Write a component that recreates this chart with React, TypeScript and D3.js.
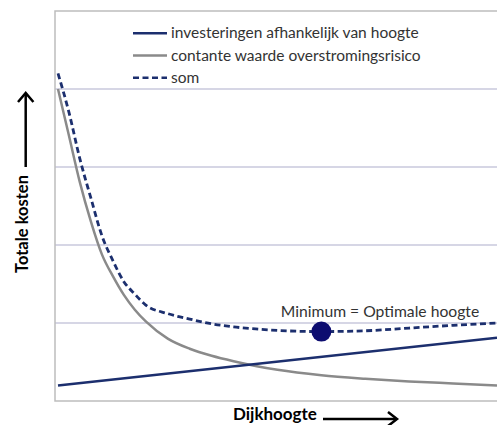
import React from "react";
import * as d3 from "d3";

// dijkhoogte (arbitrary units along x)
const heights = [0, 0.5, 1, 1.5, 2, 2.5, 3, 3.5, 4, 5, 6, 7, 8, 9, 10, 12, 14, 16, 18, 20];
// investeringen afhankelijk van hoogte (straight line, read at both ends)
const investHeights = [0, 20];
const investment = [0.2, 0.81];
// contante waarde overstromingsrisico
const risk = [4.0, 3.4, 2.8, 2.3, 1.88, 1.6, 1.36, 1.17, 1.02, 0.8, 0.67, 0.58, 0.51, 0.45, 0.4, 0.33, 0.285, 0.25, 0.225, 0.2];
// som
const total = [4.2, 3.7, 3.1, 2.6, 2.12, 1.8, 1.53, 1.37, 1.23, 1.12, 1.05, 0.99, 0.95, 0.925, 0.905, 0.89, 0.9, 0.935, 0.97, 1.0];

const yTicks = [0, 1, 2, 3, 4, 5];
const optimum = { height: 12, value: 0.89 };

const legendItems = [
  { label: "investeringen afhankelijk van hoogte", color: "#1c2f6e", dash: null },
  { label: "contante waarde overstromingsrisico", color: "#8a8a8a", dash: null },
  { label: "som", color: "#1c2f6e", dash: "6,3.5" },
];

const W = 497;
const H = 425;
const plot = { left: 55, top: 11, right: 497, bottom: 401 };

export default function App() {
  const x = d3.scaleLinear().domain([0, 20]).range([58, 497]);
  const y = d3.scaleLinear().domain([0, 5]).range([plot.bottom, plot.top]);

  const curveLine = (xs: number[], vals: number[], curve: d3.CurveFactory) =>
    d3
      .line<number>()
      .x((_, i) => x(xs[i]))
      .y((d) => y(d))
      .curve(curve)(vals) || "";

  const font = "Lato, 'Open Sans', sans-serif";

  return (
    <svg width={W} height={H} style={{ position: "absolute", left: 0, top: 0 }} fontFamily={font}>
      <defs>
        <clipPath id="plotClip">
          <rect x={plot.left} y={plot.top} width={plot.right - plot.left} height={plot.bottom - plot.top} />
        </clipPath>
      </defs>
      <rect width={W} height={H} fill="#fff" />

      {/* gridlines */}
      {yTicks.slice(1, -1).map((t) => (
        <line key={t} x1={plot.left} x2={plot.right} y1={y(t)} y2={y(t)} stroke="#c9c9dc" strokeWidth={1.5} />
      ))}
      {/* frame */}
      <path
        d={`M${plot.right},${plot.top}H${plot.left}V${plot.bottom}H${plot.right}`}
        fill="none"
        stroke="#bdbdbd"
        strokeWidth={1.5}
      />

      <g clipPath="url(#plotClip)" fill="none">
        <path d={curveLine(heights, risk, d3.curveMonotoneX)} stroke="#8a8a8a" strokeWidth={2.5} />
        <path d={curveLine(investHeights, investment, d3.curveLinear)} stroke="#1c2f6e" strokeWidth={2.5} />
        <path d={curveLine(heights, total, d3.curveMonotoneX)} stroke="#1c2f6e" strokeWidth={2.8} strokeDasharray="6,3.5" />
      </g>

      {/* optimum */}
      <circle cx={x(optimum.height)} cy={y(optimum.value)} r={10} fill="#0d0d70" />
      <text x={380} y={317} textAnchor="middle" fontSize={15.7} fill="#333">
        Minimum = Optimale hoogte
      </text>

      {/* legend */}
      {legendItems.map((d, i) => (
        <g key={d.label} transform={`translate(133, ${33.3 + i * 22.2})`}>
          <line x1={0} x2={34} y1={0} y2={0} stroke={d.color} strokeWidth={2.5} strokeDasharray={d.dash || undefined} />
          <text x={38} y={5} fontSize={15.5} fill="#333">
            {d.label}
          </text>
        </g>
      ))}

      {/* y axis label with arrow */}
      <text transform="translate(28, 273) rotate(-90)" fontSize={16.5} fontWeight="bold" fill="#000">
        Totale kosten
      </text>
      <line x1={25.7} x2={25.7} y1={167} y2={94} stroke="#000" strokeWidth={2.5} />
      <path d="M18,102 L25.7,93 L33.4,102" fill="none" stroke="#000" strokeWidth={2.5} />

      {/* x axis label with arrow */}
      <text x={233} y={420} fontSize={17} fontWeight="bold" fill="#000">
        Dijkhoogte
      </text>
      <line x1={323} x2={396} y1={419} y2={419} stroke="#000" strokeWidth={2.5} />
      <path d="M388,412 L397,419 L388,426" fill="none" stroke="#000" strokeWidth={2.5} />
    </svg>
  );
}
